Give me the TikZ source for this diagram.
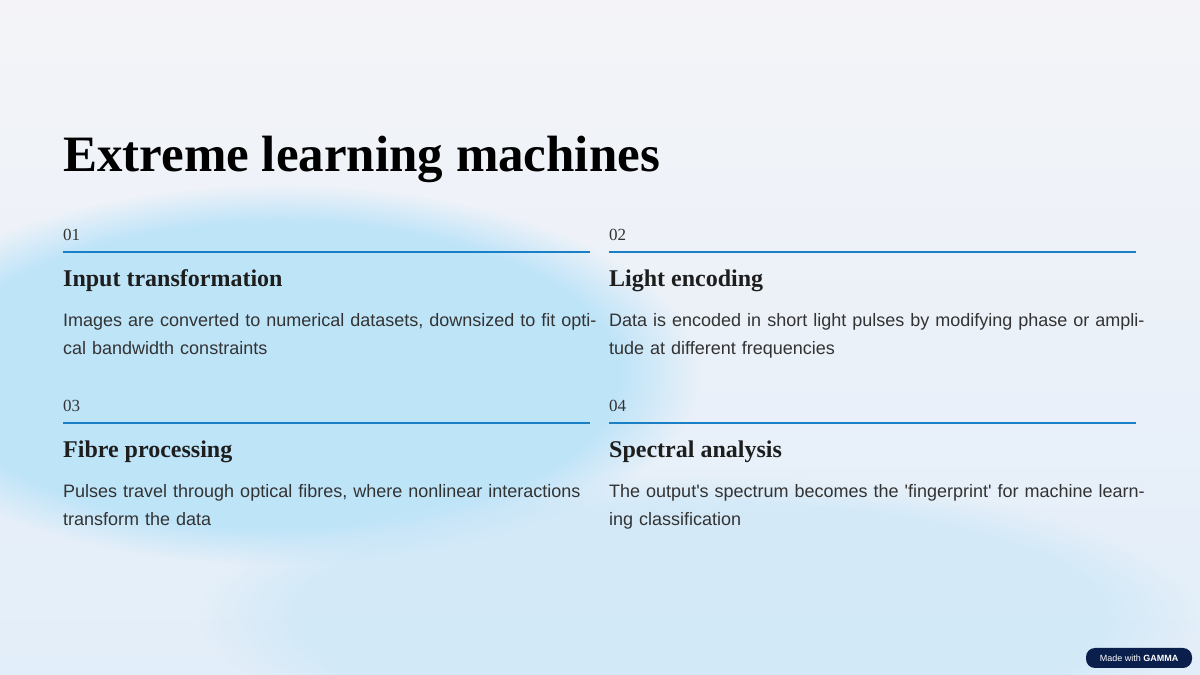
\documentclass[tikz,border=0pt]{standalone}
\usepackage{fontspec}
\setmainfont{Liberation Serif}
\newfontfamily\bodyf{Liberation Sans}
\usetikzlibrary{fadings}
\definecolor{rule}{HTML}{1A7FC4}
\definecolor{ink}{HTML}{1E1E1E}
\definecolor{bodyc}{HTML}{333333}
\definecolor{navy}{HTML}{0B1F4D}
\definecolor{bgtop}{RGB}{244,244,248}
\definecolor{bgbot}{RGB}{226,238,249}
\definecolor{blobA}{RGB}{190,228,248}
\definecolor{blobB}{RGB}{200,230,248}
\tikzset{
 num/.style={anchor=base west,inner sep=0,font=\fontsize{17}{20}\selectfont,text=bodyc},
 head/.style={anchor=base west,inner sep=0,font=\bfseries\fontsize{24}{28}\selectfont,text=ink},
 body/.style={anchor=north west,inner sep=0,font=\bodyf\fontsize{18}{28.5}\selectfont,text=bodyc,text width=545pt,align=left},
 sep/.style={draw=rule,line width=1.5pt}
}
\begin{document}
\begin{tikzpicture}[x=1pt,y=1pt]
\useasboundingbox (0,0) rectangle (1200,675);
\shade[top color=bgtop, bottom color=bgbot] (0,0) rectangle (1200,675);
\fill[blobA,path fading=circle with fuzzy edge 20 percent] (280,300) ellipse (420 and 190);
\fill[blobB,opacity=0.6,path fading=circle with fuzzy edge 20 percent] (700,60) ellipse (500 and 140);
\node[anchor=base west,inner sep=0,font=\bfseries\fontsize{51}{56}\selectfont,text=black] (title) at (63,503) {Extreme learning machines};
\foreach \x/\y/\n/\h/\b [count=\i] in {
 63/434/01/Input transformation/{Images are converted to numerical datasets, downsized to fit optical bandwidth constraints},
 609/434/02/Light encoding/{Data is encoded in short light pulses by modifying phase or amplitude at different frequencies},
 63/263/03/Fibre processing/{Pulses travel through optical fibres, where nonlinear interactions transform the data},
 609/263/04/Spectral analysis/{The output's spectrum becomes the 'fingerprint' for machine learning classification}}{
 \node[num] (n\i) at (\x,\y) {\n};
 \draw[sep] (\x,\y-11) -- (\x+527,\y-11);
 \node[head] (h\i) at (\x,\y-46) {\h};
 \node[body] (b\i) at (\x,\y-72) {\hyphenpenalty=10000\exhyphenpenalty=10000 \b};
}
\node[fill=navy,rounded corners=9pt,minimum width=106pt,minimum height=20pt,inner sep=0,text=white,font=\bodyf\fontsize{9}{10}\selectfont] (badge) at (1139,17) {Made with \textbf{GAMMA}};
\end{tikzpicture}
\end{document}
